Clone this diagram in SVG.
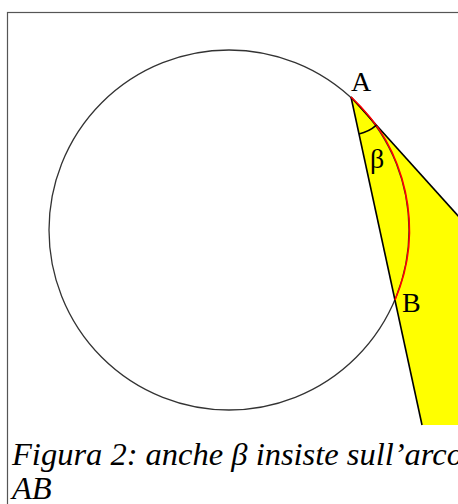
<svg xmlns="http://www.w3.org/2000/svg" width="458" height="504" viewBox="0 0 458 504">
<style>
.lbl{font-family:"Liberation Serif","Times New Roman",serif;font-size:28px;fill:#000}
.cap{font-family:"Liberation Serif","Times New Roman",serif;font-style:italic;font-size:32.5px;fill:#000}
.edge{stroke:#000;stroke-width:1.6;fill:none}
</style>
<rect x="0" y="0" width="458" height="504" fill="#fff"/>
<rect id="frame" x="7.5" y="12.5" width="520" height="560" fill="none" stroke="#555" stroke-width="1.2"/>
<g id="yellow-region">
<polygon points="351,97 458,216 458,425 422,425" fill="#ffff00"/>
</g>
<g id="circle">
<circle cx="229" cy="230" r="180" fill="none" stroke="#333" stroke-width="1.3"/>
</g>
<g id="connectors">
<path class="edge" d="M351,97 L470,229"/>
<path class="edge" d="M351,97 L422,425"/>
<path d="M351,97 A180,180 0 0,1 395,300" fill="none" stroke="#ff0000" stroke-width="1.6"/>
<path class="edge" d="M359,134 A38,38 0 0,0 376.4,125.2"/>
</g>
<g id="label-A"><text class="lbl" x="351" y="91">A</text></g>
<g id="label-B"><text class="lbl" x="402" y="312">B</text></g>
<g id="label-beta"><text class="lbl" x="370" y="168" font-size="32">β</text></g>
<g id="caption">
<text class="cap" x="12" y="465">Figura 2: anche β insiste sull’arco</text>
<text class="cap" x="12" y="499">AB</text>
</g>
</svg>
